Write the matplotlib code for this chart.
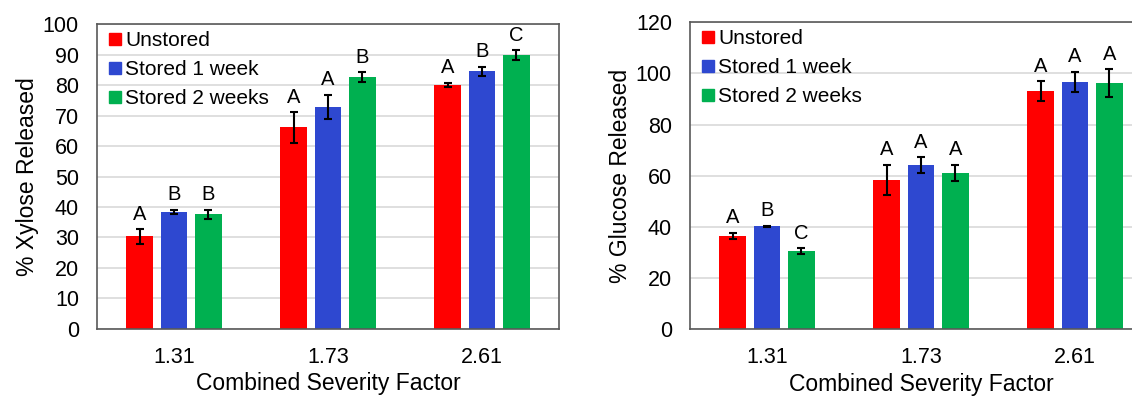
import matplotlib
matplotlib.use("Agg")
import matplotlib.pyplot as plt
from matplotlib.lines import Line2D
import numpy as np

plt.rcParams['font.family'] = ['Liberation Sans', 'DejaVu Sans']

categories = ["1.31", "1.73", "2.61"]
series = ["Unstored", "Stored 1 week", "Stored 2 weeks"]
colors = ["#FF0000", "#2E48D0", "#00B050"]

xylose_unstored = [30.3, 66.1, 80.0]
xylose_week1 = [38.3, 72.9, 84.5]
xylose_week2 = [37.6, 82.7, 89.8]
xylose_err_unstored = [2.4, 5.0, 0.7]
xylose_err_week1 = [0.7, 4.0, 1.6]
xylose_err_week2 = [1.4, 1.6, 1.6]
xylose_letters_unstored = ["A", "A", "A"]
xylose_letters_week1 = ["B", "A", "B"]
xylose_letters_week2 = ["B", "B", "C"]

glucose_unstored = [36.5, 58.4, 93.1]
glucose_week1 = [40.2, 64.1, 96.6]
glucose_week2 = [30.6, 61.1, 96.2]
glucose_err_unstored = [1.2, 5.9, 3.8]
glucose_err_week1 = [0.3, 3.1, 4.0]
glucose_err_week2 = [1.0, 3.1, 5.5]
glucose_letters_unstored = ["A", "A", "A"]
glucose_letters_week1 = ["B", "A", "A"]
glucose_letters_week2 = ["C", "A", "A"]

W, H = 1132, 398
fig = plt.figure(figsize=(W / 100, H / 100), dpi=100)
ax1 = fig.add_axes([97 / W, 1 - 328.7 / H, 462 / W, (328.7 - 24.3) / H])
ax2 = fig.add_axes([690 / W, 1 - 329.3 / H, 462 / W, (329.3 - 22.3) / H])

bar_w = 0.173
step = 0.223


def draw(ax, vals, errs, letters, ymax, ystep, ylabel):
    x = np.arange(len(categories))
    for i, (v, e, l, c, name) in enumerate(zip(vals, errs, letters, colors, series)):
        xs = x + (i - 1) * step
        ax.bar(xs, v, width=bar_w, color=c, zorder=2, label=name)
        ax.errorbar(xs, v, yerr=e, fmt='none', ecolor='black', elinewidth=1.5,
                    capsize=3, capthick=1.5, zorder=3)
        for xi, vi, ei, li in zip(xs, v, e, l):
            ax.annotate(li, (xi, vi + ei), xytext=(0, 4), textcoords='offset points',
                        ha='center', va='bottom', fontsize=14.5, color='black')
    ax.set_xlim(-0.5, len(categories) - 0.5)
    ax.set_ylim(0, ymax)
    ax.set_yticks(np.arange(0, ymax + 1, ystep))
    ax.set_xticks(x)
    ax.set_xticklabels(categories)
    ax.tick_params(axis='both', length=0, labelsize=15.5, colors='black')
    ax.tick_params(axis='x', pad=13)
    ax.tick_params(axis='y', pad=13)
    ax.yaxis.grid(True, color='#D9D9D9', linewidth=1.2, zorder=0)
    ax.set_axisbelow(True)
    for s in ax.spines.values():
        s.set_color('#595959')
        s.set_linewidth(1.2)
    ax.set_xlabel("Combined Severity Factor", fontsize=16.5, labelpad=3)
    ax.set_ylabel(ylabel, fontsize=16.5, labelpad=3)
    handles = [Line2D([], [], marker='s', linestyle='none', markersize=8.5,
                      markerfacecolor=c, markeredgecolor=c) for c in colors]
    ax.legend(handles, series, loc='upper left', frameon=False, fontsize=15,
              handlelength=0.6, handletextpad=0.2, labelspacing=0.47,
              borderaxespad=0.3, bbox_to_anchor=(-0.006, 1.025))


draw(ax1, [xylose_unstored, xylose_week1, xylose_week2],
     [xylose_err_unstored, xylose_err_week1, xylose_err_week2],
     [xylose_letters_unstored, xylose_letters_week1, xylose_letters_week2],
     100, 10, "% Xylose Released")
draw(ax2, [glucose_unstored, glucose_week1, glucose_week2],
     [glucose_err_unstored, glucose_err_week1, glucose_err_week2],
     [glucose_letters_unstored, glucose_letters_week1, glucose_letters_week2],
     120, 20, "% Glucose Released")

fig.savefig("out.png", dpi=100)
